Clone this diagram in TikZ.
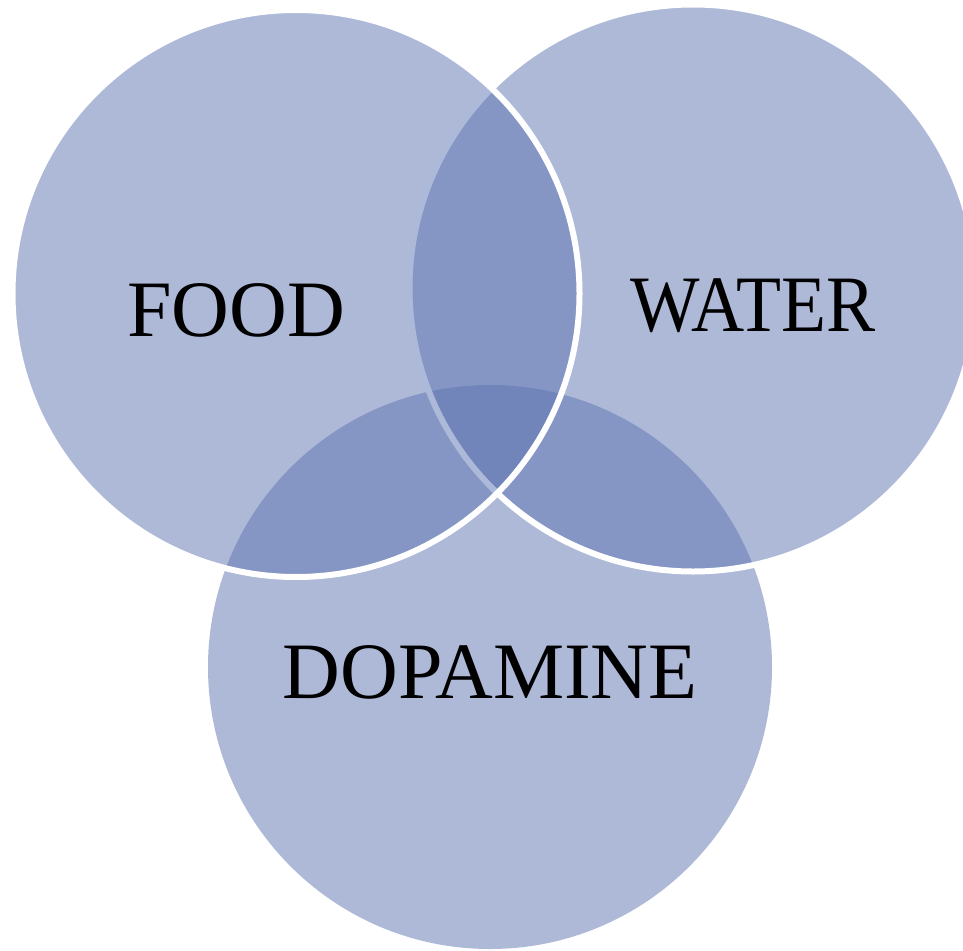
\documentclass[tikz,border=0pt]{standalone}
\usepackage{fontspec}
\setmainfont{Liberation Serif}
\definecolor{setblue}{RGB}{93,116,178}
\tikzset{
  setdisc/.style={fill=setblue,fill opacity=0.5,draw=white,draw opacity=1,line width=6pt},
  setlabel/.style={font=\fontsize{80}{96}\selectfont,text=black}
}
\begin{document}
\begin{tikzpicture}[x=1pt,y=-1pt]
\useasboundingbox (0,0) rectangle (963,950);
\coordinate (F0) at (296,293.5);
\coordinate (W0) at (693,288);
\coordinate (D0) at (490,667);

% circles, bottom one first
\fill[setblue,fill opacity=0.5] (D0) circle (282);
\draw[setdisc] (W0) circle (283.5);
\draw[setdisc] (F0) circle (283.5);

\node[setlabel] (food) at (236,310) {FOOD};
\node[setlabel,xscale=0.92] (water) at (753,306) {WATER};
\node[setlabel] (dopamine) at (490,672) {DOPAMINE};
\end{tikzpicture}
\end{document}
